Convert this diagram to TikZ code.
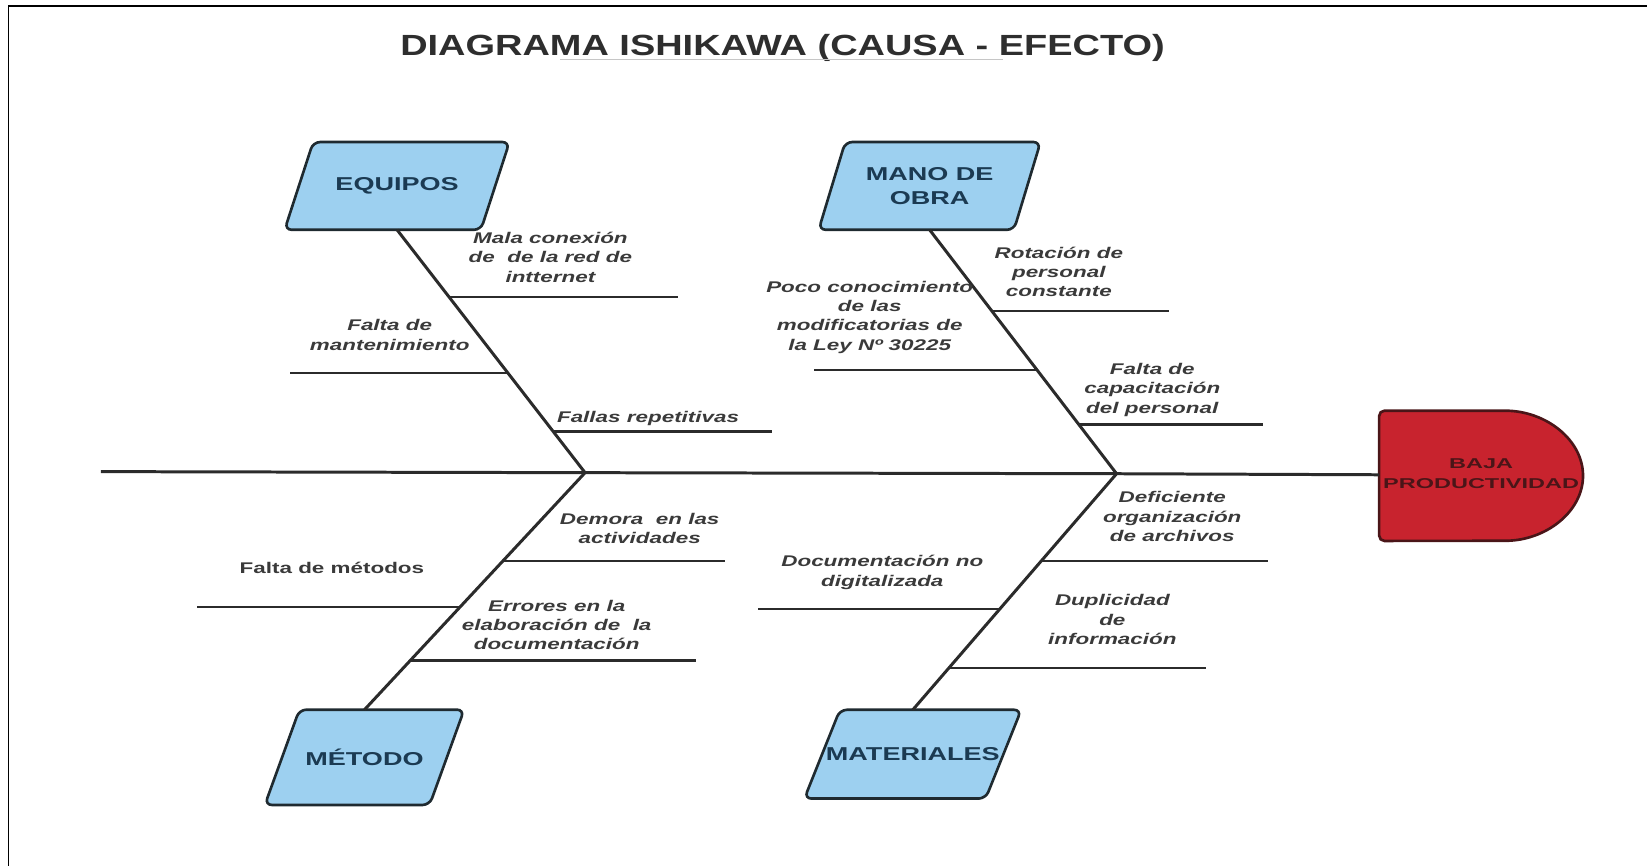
\documentclass[tikz,border=0pt]{standalone}
\usepackage{fontspec}
\usepackage{tikz}
\usetikzlibrary{calc}
\usetikzlibrary{intersections}
\usetikzlibrary{backgrounds}

\setmainfont{Liberation Sans}
\newfontfamily\etiqfont[FakeStretch=1.45]{Liberation Sans}
\newfontfamily\titfont[FakeStretch=1.3]{Liberation Sans}
\newfontfamily\efectofont[FakeStretch=1.65]{Liberation Sans}

\definecolor{azulcaja}{HTML}{9DD0F0}
\definecolor{bordecaja}{HTML}{1F2A30}
\definecolor{textocaja}{HTML}{1B3A52}
\definecolor{rojo}{HTML}{C8232E}
\definecolor{rojoosc}{HTML}{4A1518}
\definecolor{linea}{HTML}{2B2B2B}
\definecolor{gristexto}{HTML}{3A3A3A}

\tikzset{
  caja/.style={rectangle, text=textocaja, font=\etiqfont\bfseries\fontsize{10.6}{13.5}\selectfont,
    align=center, inner sep=0pt},
  fondocaja/.style={fill=azulcaja, draw=bordecaja, line width=1.5pt, rounded corners=4pt},
  espina/.style={draw=linea, line width=1.7pt},
  rama/.style={draw=linea, line width=1.4pt},
  etiqueta/.style={text=gristexto, font=\etiqfont\bfseries\itshape\fontsize{8.8}{11}\selectfont,
    align=center, inner sep=0pt},
}

\begin{document}
\begin{tikzpicture}[x=0.021cm,y=-0.021cm]
\useasboundingbox (0,0) rectangle (1568,824);

% marco
\draw[line width=1pt] (8,824) -- (8,6) -- (1568,6);

\node[font=\titfont\bfseries\fontsize{16.6}{20}\selectfont, text=black!82] (titulo) at (745,46) {DIAGRAMA ISHIKAWA (CAUSA - EFECTO)};
\draw[gray!45, line width=0.6pt] (533,57) -- (955,57);

% causas
\node[caja, minimum width=3.91cm, minimum height=1.74cm] (equipos) at (378,177) {EQUIPOS};
\node[caja, minimum width=3.89cm, minimum height=1.74cm] (mano) at (885,177) {MANO DE\\OBRA};
\node[caja, minimum width=3.28cm, minimum height=1.89cm] (metodo) at (347,721) {MÉTODO};
\node[caja, minimum width=3.61cm, minimum height=1.76cm] (materiales) at (869,718) {MATERIALES};

\begin{scope}[on background layer]
\foreach \c/\s in {equipos/0.285, mano/0.265, metodo/0.345, materiales/0.355}
  \draw[fondocaja] ([xshift=-\s cm]\c.south west) -- ([xshift=\s cm]\c.north west)
    -- ([xshift=\s cm]\c.north east) -- ([xshift=-\s cm]\c.south east) -- cycle;
\end{scope}

% efecto
\draw[fill=rojo, draw=rojoosc, line width=1.5pt, rounded corners=3pt] (1313,391) -- (1428,391)
  arc[start angle=90, end angle=-90, x radius=1.66cm, y radius=1.30cm] -- (1313,515) -- cycle;
\node[font=\efectofont\bfseries\fontsize{8.1}{11.3}\selectfont, text=rojoosc, align=center] (efecto) at (1410,451) {BAJA\\PRODUCTIVIDAD};

\coordinate (cola) at (96,449);
\coordinate (j1) at (557,450);
\coordinate (j2) at (1063,451);
\coordinate (cabeza) at (1313,452);

\draw[espina] (cola) -- (j1) -- (j2) -- (cabeza);
\draw[espina, name path=hequipos] (equipos.south) -- (j1);
\draw[espina, name path=hmano] (mano.south) -- (j2);
\draw[espina, name path=hmetodo] (metodo.north) -- (j1);
\draw[espina, name path=hmateriales] (materiales.north) -- (j2);

% ramas
\foreach \hueso/\yr/\xfin [count=\i] in {
  hequipos/283/645, hequipos/355/276, hequipos/411/735,
  hmano/296/1113, hmano/352/775, hmano/404/1202,
  hmetodo/534/690, hmetodo/578/188, hmetodo/629/663,
  hmateriales/534/1207, hmateriales/580/722, hmateriales/636/1148}
{
  \path[name path=nivel] (0,\yr) -- (1568,\yr);
  \path[name intersections={of=nivel and \hueso, by=r\i}];
  \coordinate (f\i) at (\xfin,\yr);
  \draw[rama] (r\i) -- (f\i);
}

\node[etiqueta] (e1) at (524,245) {Mala conexión\\de\ \ de la red de\\intternet};
\node[etiqueta] (e2) at (371,319) {Falta de\\mantenimiento};
\node[etiqueta] (e3) at (617,398) {Fallas repetitivas};
\node[etiqueta] (m1) at (1008,259) {Rotación de\\personal\\constante};
\node[etiqueta] (m2) at (828,302) {Poco conocimiento\\de las\\modificatorias de\\la Ley Nº 30225};
\node[etiqueta] (m3) at (1097,371) {Falta de\\capacitación\\del personal};
\node[etiqueta] (t1) at (609,503) {Demora\ \ en las\\actividades};
\node[etiqueta, font=\etiqfont\bfseries\fontsize{8.8}{11}\selectfont] (t2) at (316,541) {Falta de métodos};
\node[etiqueta] (t3) at (530,595) {Errores en la\\elaboración de\ \ la\\documentación};
\node[etiqueta] (a1) at (1116,492) {Deficiente\\organización\\de archivos};
\node[etiqueta] (a2) at (840,545) {Documentación no\\digitalizada};
\node[etiqueta] (a3) at (1059,590) {Duplicidad\\de\\información};
\end{tikzpicture}
\end{document}
